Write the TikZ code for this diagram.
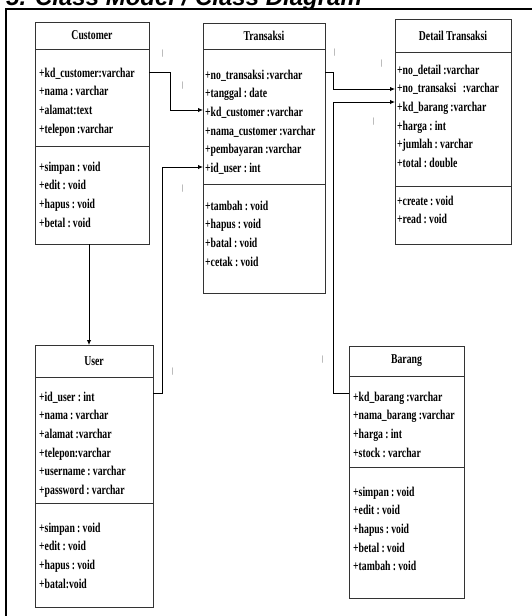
\documentclass[tikz,border=0pt]{standalone}
\usepackage{fontspec}
\setmainfont{Liberation Serif}
\newfontfamily\clsfont[FakeStretch=0.72]{Liberation Serif}
\newfontfamily\headfont{Liberation Sans}
\usetikzlibrary{arrows.meta}
\definecolor{boxcol}{HTML}{333333}
\definecolor{tickcol}{HTML}{555555}
\newcommand\rowfont{\clsfont\bfseries\fontsize{13.5}{18.7}\selectfont}
\newcommand\umlpart[6]{\node[umlbox, minimum width=#4pt, minimum height=#5pt] (#1) at (#2,#3) {#6};}
\tikzset{
  umlbox/.style={draw=boxcol, line width=1pt, anchor=north west, inner sep=0pt, outer sep=0pt, font=\rowfont},
  rows/.style={anchor=base west, inner sep=0pt, text width=118pt, align=left, font=\rowfont},
  conn/.style={draw=black, line width=0.9pt},
  arr/.style={conn, -{Latex[length=5pt,width=4.5pt]}},
  tickmark/.style={inner sep=0pt, text=tickcol, font=\fontsize{8}{8}\selectfont}
}
\begin{document}
\begin{tikzpicture}[x=1pt,y=-1pt]
\useasboundingbox (0,0) rectangle (532,616);
\clip (0,0) rectangle (532,616);
\fill[white] (0,0) rectangle (532,616);
% title (cut off at top) and frame
\node[anchor=base west, inner sep=0pt, font=\headfont\bfseries\itshape\fontsize{24}{24}\selectfont] (title) at (6,5) {5. Class Model / Class Diagram};
\draw[line width=2pt] (5.5,620) -- (5.5,8.5) -- (535,8.5);

% Customer
\umlpart{cust-h}{35}{22}{114}{27}{Customer}
\umlpart{cust-a}{35}{49}{114}{97}{}
\umlpart{cust-m}{35}{146}{114}{98}{}
\node[rows] (cust-at) at (39,77) {+kd\_customer:varchar\\+nama\,:\,varchar\\+alamat:text\\+telepon\,:varchar};
\node[rows] (cust-mt) at (39,171) {+simpan\,:\,void\\+edit\,:\,void\\+hapus\,:\,void\\+betal\,:\,void};

% Transaksi
\umlpart{trans-h}{203}{23}{122}{26}{Transaksi}
\umlpart{trans-a}{203}{49}{122}{135}{}
\umlpart{trans-m}{203}{184}{122}{109}{}
\node[rows] (trans-at) at (205,79) {+no\_transaksi\,:varchar\\+tanggal\,:\,date\\+kd\_customer\,:varchar\\+nama\_customer\,:varchar\\+pembayaran\,:varchar\\+id\_user\,:\,int};
\node[rows] (trans-mt) at (205,210) {+tambah\,:\,void\\+hapus\,:\,void\\+batal\,:\,void\\+cetak\,:\,void};

% Detail Transaksi
\umlpart{det-h}{395}{19}{116}{33}{Detail Transaksi}
\umlpart{det-a}{395}{52}{116}{134}{}
\umlpart{det-m}{395}{186}{116}{58}{}
\node[rows] (det-at) at (397,74) {+no\_detail\,:varchar\\+no\_transaksi \,:varchar\\+kd\_barang\,:varchar\\+harga\,:\,int\\+jumlah\,:\,varchar\\+total\,:\,double};
\node[rows] (det-mt) at (397,205) {+create\,:\,void\\+read\,:\,void};

% User
\umlpart{user-h}{35}{345}{118}{32}{User}
\umlpart{user-a}{35}{377}{118}{126}{}
\umlpart{user-m}{35}{503}{118}{104}{}
\node[rows] (user-at) at (39,401) {+id\_user\,:\,int\\+nama\,:\,varchar\\+alamat\,:varchar\\+telepon:varchar\\+username\,:\,varchar\\+password\,:\,varchar};
\node[rows] (user-mt) at (39,532) {+simpan\,:\,void\\+edit\,:\,void\\+hapus\,:\,void\\+batal:void};

% Barang
\umlpart{bar-h}{349}{346}{115}{30}{Barang}
\umlpart{bar-a}{349}{376}{115}{91}{}
\umlpart{bar-m}{349}{467}{115}{131}{}
\node[rows] (bar-at) at (353,401) {+kd\_barang\,:varchar\\+nama\_barang\,:varchar\\+harga\,:\,int\\+stock\,:\,varchar};
\node[rows] (bar-mt) at (353,496) {+simpan\,:\,void\\+edit\,:\,void\\+hapus\,:\,void\\+betal\,:\,void\\+tambah\,:\,void};

% connectors
\draw[arr] (cust-a.east |- 0,72) -- (170,72) |- (trans-a.west |- 0,110);
\draw[arr] (user-a.east |- 0,393) -| (162,167) -- (trans-a.west |- 0,167);
\draw[arr] (cust-m.south -| 89,0) -- (user-h.north -| 89,0);
\draw[arr] (trans-a.east |- 0,72) -- (333,72) |- (det-a.west |- 0,89);
\draw[arr] (bar-a.west |- 0,393) -| (333,102) -- (det-a.west |- 0,102);

% multiplicity ticks
\node[tickmark] (t1) at (163,54) {|};
\node[tickmark] (t2) at (183,86) {|};
\node[tickmark] (t3) at (183,189) {|};
\node[tickmark] (t4) at (335,53) {|};
\node[tickmark] (t5) at (382,64) {|};
\node[tickmark] (t6) at (374,122) {|};
\node[tickmark] (t7) at (173,372) {|};
\node[tickmark] (t8) at (323,360) {|};
\end{tikzpicture}
\end{document}
